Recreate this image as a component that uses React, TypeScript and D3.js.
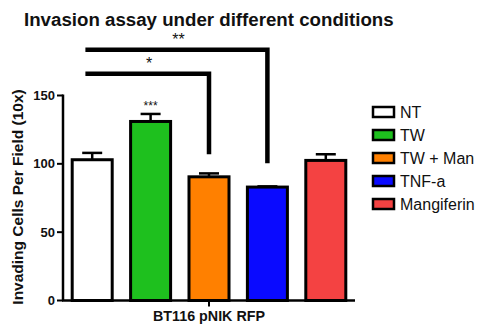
import { useEffect, useRef } from 'react';
import * as d3 from 'd3';

const categories = ['NT', 'TW', 'TW + Man', 'TNF-a', 'Mangiferin'];
const means = [103, 131, 90.5, 83, 102.5];
const errors = [5, 5.5, 2.5, 0.5, 4.5];
const colors = ['#ffffff', '#1ec01e', '#ff8000', '#0a0aff', '#f44242'];
const yTicks = [0, 50, 100, 150];
const barMarks = [{ cat: 'TW', label: '***' }];
const brackets = [
  { from: 'NT', to: 'TW + Man', level: 166, drop: 107, label: '*' },
  { from: 'NT', to: 'TNF-a', level: 183.5, drop: 100.5, label: '**' },
];

export default function App() {
  const svgRef = useRef<SVGSVGElement>(null);

  useEffect(() => {
    if (!svgRef.current) return;
    const width = 483;
    const height = 324;
    const svg = d3.select(svgRef.current);
    svg.selectAll('*').remove();
    svg.attr('width', width).attr('height', height);

    const font = 'Arial, "Liberation Sans", sans-serif';
    const x = d3.scaleBand<string>().domain(categories).range([63, 355]).paddingInner(0.315).paddingOuter(0.1575);
    const y = d3.scaleLinear().domain([0, 150]).range([300.5, 95.5]);
    const bw = x.bandwidth();

    // Title
    svg.append('text')
      .attr('x', 24).attr('y', 26)
      .attr('font-family', font).attr('font-size', 18.7).attr('font-weight', 'bold')
      .attr('fill', '#111')
      .text('Invasion assay under different conditions');

    // Bars
    const g = svg.append('g');
    categories.forEach((c, i) => {
      const cx = (x(c) ?? 0) + bw / 2;
      // error bar
      g.append('line')
        .attr('x1', cx).attr('x2', cx)
        .attr('y1', y(means[i])).attr('y2', y(means[i] + errors[i]))
        .attr('stroke', '#000').attr('stroke-width', 2.5);
      g.append('line')
        .attr('x1', cx - 10).attr('x2', cx + 10)
        .attr('y1', y(means[i] + errors[i])).attr('y2', y(means[i] + errors[i]))
        .attr('stroke', '#000').attr('stroke-width', 2.5);
      g.append('rect')
        .attr('x', x(c) ?? 0).attr('y', y(means[i]))
        .attr('width', bw).attr('height', y(0) - y(means[i]))
        .attr('fill', colors[i]).attr('stroke', '#000').attr('stroke-width', 3);
    });

    // Axes
    svg.append('line')
      .attr('x1', 63).attr('x2', 63).attr('y1', y(150) - 1).attr('y2', y(0))
      .attr('stroke', '#000').attr('stroke-width', 2.5);
    svg.append('line')
      .attr('x1', 62).attr('x2', 355).attr('y1', y(0)).attr('y2', y(0))
      .attr('stroke', '#000').attr('stroke-width', 2.5);
    yTicks.forEach((t) => {
      svg.append('line')
        .attr('x1', 57).attr('x2', 63).attr('y1', y(t)).attr('y2', y(t))
        .attr('stroke', '#000').attr('stroke-width', 2);
      svg.append('text')
        .attr('x', 55).attr('y', y(t) + 4.5)
        .attr('text-anchor', 'end')
        .attr('font-family', font).attr('font-size', 13).attr('font-weight', 'bold')
        .attr('fill', '#111')
        .text(t);
    });
    const midX = (63 + 355) / 2;
    svg.append('line')
      .attr('x1', midX).attr('x2', midX).attr('y1', y(0)).attr('y2', y(0) + 6)
      .attr('stroke', '#000').attr('stroke-width', 2);
    svg.append('text')
      .attr('x', midX).attr('y', 321)
      .attr('text-anchor', 'middle')
      .attr('font-family', font).attr('font-size', 14.3).attr('font-weight', 'bold')
      .attr('fill', '#111')
      .text('BT116 pNIK RFP');

    svg.append('text')
      .attr('transform', `translate(23,${(y(0) + y(150)) / 2 - 1}) rotate(-90)`)
      .attr('text-anchor', 'middle')
      .attr('font-family', font).attr('font-size', 15.5).attr('font-weight', 'bold')
      .attr('fill', '#111')
      .text('Invading Cells Per Field (10x)');

    // Significance marks
    barMarks.forEach((m) => {
      const i = categories.indexOf(m.cat);
      svg.append('text')
        .attr('x', (x(m.cat) ?? 0) + bw / 2).attr('y', y(means[i] + errors[i]) - 4)
        .attr('text-anchor', 'middle')
        .attr('font-family', font).attr('font-size', 12)
        .attr('fill', '#111')
        .text(m.label);
    });
    brackets.forEach((b) => {
      const x0 = (x(b.from) ?? 0) + bw * 0.33;
      const x1 = (x(b.to) ?? 0) + bw / 2;
      svg.append('path')
        .attr('d', `M${x0},${y(b.level)}H${x1}V${y(b.drop)}`)
        .attr('fill', 'none').attr('stroke', '#000').attr('stroke-width', 4.5);
      svg.append('text')
        .attr('x', (x0 + x1) / 2 + 2).attr('y', y(b.level) - 5)
        .attr('text-anchor', 'middle')
        .attr('font-family', font).attr('font-size', 16)
        .attr('fill', '#111')
        .text(b.label);
    });

    // Legend
    const legend = svg.append('g').attr('transform', 'translate(373,112)');
    categories.forEach((c, i) => {
      const ly = i * 23;
      legend.append('rect')
        .attr('x', 0).attr('y', ly - 5).attr('width', 21).attr('height', 10)
        .attr('fill', colors[i]).attr('stroke', '#000').attr('stroke-width', 2.5);
      legend.append('text')
        .attr('x', 27).attr('y', ly + 5.5)
        .attr('font-family', font).attr('font-size', 16)
        .attr('fill', '#111')
        .text(c);
    });
  }, []);

  return (
    <div style={{ position: 'absolute', left: 0, top: 0, width: 483, height: 324, background: '#fff' }}>
      <svg ref={svgRef} style={{ display: 'block' }} />
    </div>
  );
}
